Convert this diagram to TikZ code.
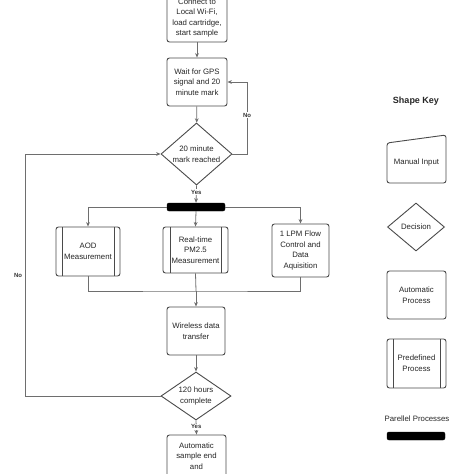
\documentclass[tikz,border=0pt]{standalone}
\usepackage{fontspec}
\setmainfont{Liberation Sans}
\usetikzlibrary{shapes.geometric,arrows.meta}
\definecolor{edge}{HTML}{4A4A4A}
\definecolor{conn}{HTML}{6E6E6E}
\tikzset{
  txt/.style={font=\fontsize{7.8}{10.6}\selectfont, align=center, text=black!85},
  procbox/.style={txt, draw=edge, line width=0.9pt, rounded corners=2.5pt, inner sep=0pt, fill=white},
  predef/.style={procbox, path picture={
      \draw[edge, line width=0.9pt] ([xshift=#1]path picture bounding box.north west) -- ([xshift=#1]path picture bounding box.south west);
      \draw[edge, line width=0.9pt] ([xshift=-#1]path picture bounding box.north east) -- ([xshift=-#1]path picture bounding box.south east);}},
  decision/.style={txt, shape=diamond, draw=edge, line width=0.9pt, inner sep=0pt, fill=white},
  parbar/.style={draw=black, fill=black, rounded corners=2pt, inner sep=0pt},
  conline/.style={draw=conn, line width=0.8pt},
  arr/.style={conline, -{Stealth[length=4.5pt,width=3.8pt]}},
  lbl/.style={font=\fontsize{6}{7}\selectfont\bfseries, text=black!80, fill=white, inner sep=0.8pt}
}
\begin{document}
\begin{tikzpicture}[x=1pt,y=-1pt]
\useasboundingbox (0,0) rectangle (474,474);
% main flow
\node[procbox, minimum width=60pt, minimum height=48pt] (start) at (197,18) {Connect to\\Local Wi-Fi,\\load cartridge,\\start sample};
\node[procbox, minimum width=60pt, minimum height=48pt] (wait) at (197,82) {Wait for GPS\\signal and 20\\minute mark};
\node[decision, minimum width=71pt, minimum height=62pt, aspect=1.145] (d1) at (196.5,154) {20 minute\\mark reached};
\node[parbar, minimum width=58pt, minimum height=8pt] (bar) at (196,207) {};
\node[predef=6pt, minimum width=64pt, minimum height=49pt] (aod) at (88,251.5) {AOD\\Measurement};
\node[predef=7pt, minimum width=65pt, minimum height=46pt] (pm) at (195.5,250) {Real-time\\PM2.5\\Measurement};
\node[procbox, minimum width=57pt, minimum height=53pt] (lpm) at (300.5,250.5) {1 LPM Flow\\Control and\\Data\\Aquisition};
\coordinate (merge) at (196,291);
\node[procbox, minimum width=58pt, minimum height=48pt] (wifi) at (196,331) {Wireless data\\transfer};
\node[decision, minimum width=70pt, minimum height=48pt, aspect=1.458] (d2) at (196,396) {120 hours\\complete};
\node[procbox, minimum width=59pt, minimum height=42pt] (final) at (196.5,456) {Automatic\\sample end\\and};
\coordinate (noR) at (247,154);
\coordinate (noL1) at (25,396);
\coordinate (noL2) at (25,154);
% connectors
\draw[arr] (start) -- (wait);
\draw[arr] (wait) -- (d1);
\draw[arr] (d1.east) -- (noR) |- (wait.east) node[lbl, pos=0.27] {No};
\draw[arr] (d1.south) -- node[lbl, pos=0.4] {Yes} (bar.north);
\draw[arr] (bar.west) -| (aod.north);
\draw[arr] (bar.south) -- (pm.north);
\draw[arr] (bar.east) -| (lpm.north);
\draw[conline] (aod.south) |- (merge) -| (lpm.south);
\draw[conline] (pm.south) -- (merge);
\draw[arr] (merge) -- (wifi.north);
\draw[arr] (wifi) -- (d2.north);
\draw[arr] (d2.west) -- (noL1) -- (noL2) -- (d1.west);
\node[font=\fontsize{6}{7}\selectfont\bfseries, text=black!80] (nol) at (18,275) {No};
\draw[arr] (d2.south) -- node[lbl, pos=0.45] {Yes} (final.north);
% shape key
\node[font=\fontsize{9}{11}\selectfont\bfseries, text=black!85] (key) at (416,101) {Shape Key};
\draw[edge, line width=0.9pt, rounded corners=2.5pt] (387,143) -- (446,135) -- (446,183) -- (387,183) -- cycle;
\node[txt] (kmi) at (416.5,162) {Manual Input};
\node[decision, minimum width=57pt, minimum height=48pt, aspect=1.19] (kdec) at (416,227) {Decision};
\node[procbox, minimum width=59pt, minimum height=48pt] (kauto) at (416.5,295) {Automatic\\Process};
\node[predef=6pt, minimum width=59pt, minimum height=49pt] (kpre) at (416.5,363.5) {Predefined\\Process};
\node[txt] (kpar) at (417,419) {Parellel Processes};
\node[parbar, minimum width=58pt, minimum height=8pt] (kbar) at (416,436) {};
\end{tikzpicture}
\end{document}
